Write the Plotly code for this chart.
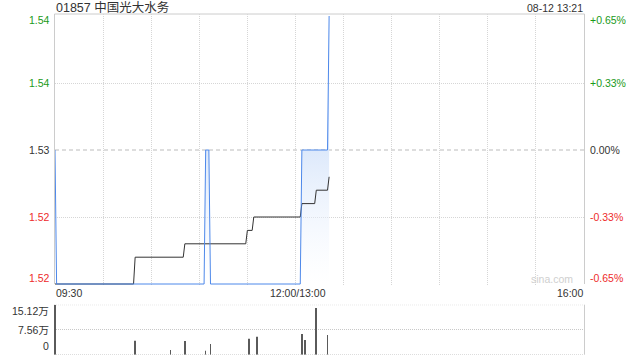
import plotly.graph_objects as go

# ---------------- data ----------------
# minute index: 0 = 09:30, 150 = 12:00/13:00, 330 = 16:00
price_x = [0, 1, 93, 94, 96, 97, 153, 154, 170, 171]
price_y = [1.53, 1.52, 1.52, 1.53, 1.53, 1.52, 1.52, 1.53, 1.53, 1.54]

avg_x = [0, 49, 50, 80, 81, 119, 120, 123, 124, 153, 154, 162, 163, 170, 171]
avg_y = [1.52, 1.52, 1.522, 1.522, 1.523, 1.523, 1.524, 1.524, 1.525,
         1.525, 1.526, 1.526, 1.527, 1.527, 1.528]

vol_x = [0, 50, 72, 81, 94, 97, 121, 126, 154, 156, 163, 170]
vol_y = [151200, 42300, 14100, 41300, 12100, 32300, 48400, 54400,
         62500, 44400, 141100, 59500]

prev_close = 1.53
price_ticks = [1.54, 1.535, 1.53, 1.525, 1.52]
price_labels = ["1.54", "1.54", "1.53", "1.52", "1.52"]
pct_labels = ["+0.65%", "+0.33%", "0.00%", "-0.33%", "-0.65%"]
vol_ticks = [151200, 75600, 0]
vol_labels = ["15.12万", "7.56万", "0"]
time_labels = [(0, "09:30"), (150, "12:00/13:00"), (330, "16:00")]
title_text = "01857 中国光大水务"
stamp_text = "08-12 13:21"

# ---------------- layout helpers ----------------
W, H = 640, 360
def px_x(p): return p / W
def px_y(p): return 1 - p / H

FONT = "Liberation Sans, Arial, Noto Sans CJK SC, sans-serif"
GREEN = "#1a9a1a"
RED = "#ee2b2b"
DARK = "#333333"
BLUE = "#4d88ea"

main_dom_x = [px_x(55), px_x(584)]
main_dom_y = [px_y(285.5), px_y(14)]
# 1.52 sits at pixel 284, 1.54 at pixel 16
y_lo = 1.52 - 1.5 / 134 * 0.01
y_hi = 1.54 + 2.0 / 134 * 0.01
vol_dom_x = [px_x(54), px_x(584)]
vol_dom_y = [px_y(354.7), px_y(304.7)]

fig = go.Figure()

# gradient fill under price line
fig.add_trace(go.Scatter(
    x=price_x, y=price_y, mode="lines", line=dict(width=0),
    fill="tozeroy",
    fillgradient=dict(type="vertical",
                      colorscale=[[0, "rgba(240,245,254,0.0)"],
                                  [0.5, "rgb(221,233,251)"],
                                  [1, "rgb(212,227,250)"]],
                      start=1.52, stop=1.54),
    xaxis="x", yaxis="y", hoverinfo="skip"))

# average price line
fig.add_trace(go.Scatter(
    x=avg_x, y=avg_y, mode="lines", line=dict(color=DARK, width=1),
    xaxis="x", yaxis="y"))

# price line
fig.add_trace(go.Scatter(
    x=price_x, y=price_y, mode="lines", line=dict(color=BLUE, width=1),
    xaxis="x", yaxis="y"))

# volume bars
fig.add_trace(go.Bar(
    x=vol_x, y=vol_y, width=0.35, marker=dict(color="#5a5a5a", line=dict(width=0)),
    xaxis="x2", yaxis="y2"))

ann = []
shifts = {0: -4.5, 4: 6}
for i, (v, lab, pl) in enumerate(zip(price_ticks, price_labels, pct_labels)):
    col = GREEN if v > prev_close + 1e-9 else (RED if v < prev_close - 1e-9 else DARK)
    ys = shifts.get(i, 0)
    ann.append(dict(x=px_x(52), xref="paper", y=v, yref="y", text=lab,
                    xanchor="right", yanchor="middle", showarrow=False,
                    yshift=ys, font=dict(family=FONT, size=10.5, color=col)))
    ann.append(dict(x=px_x(588), xref="paper", y=v, yref="y", text=pl,
                    xanchor="left", yanchor="middle", showarrow=False,
                    yshift=ys, font=dict(family=FONT, size=10.5, color=col)))

vshifts = [-6, 0, 8.5]
for v, lab, s in zip(vol_ticks, vol_labels, vshifts):
    ann.append(dict(x=px_x(51), xref="paper", y=v, yref="y2", text=lab,
                    xanchor="right", yanchor="middle", showarrow=False,
                    yshift=s, font=dict(family=FONT, size=10.5, color=DARK)))

anchors = {0: "left", 150: "center", 330: "right"}
xs = {0: -1, 150: 3, 330: 1}
for t, lab in time_labels:
    ann.append(dict(x=t, xref="x", y=px_y(293.3), yref="paper", text=lab,
                    xanchor=anchors[t], yanchor="middle", showarrow=False,
                    xshift=xs[t], font=dict(family=FONT, size=10.5, color=DARK)))

ann.append(dict(x=px_x(54), xref="paper", y=px_y(7.5), yref="paper", text=title_text,
                xanchor="left", yanchor="middle", showarrow=False,
                font=dict(family=FONT, size=12.5, color=DARK)))
ann.append(dict(x=px_x(585), xref="paper", y=px_y(7.5), yref="paper", text=stamp_text,
                xanchor="right", yanchor="middle", showarrow=False,
                font=dict(family=FONT, size=10.5, color=DARK)))
ann.append(dict(x=px_x(552), xref="paper", y=px_y(279), yref="paper", text="sina.com",
                xanchor="center", yanchor="middle", showarrow=False,
                font=dict(family=FONT, size=10.5, color="#cfcfcf")))

border = "#cccccc"
dot = "1px,1px"
shapes = [
    dict(type="line", xref="paper", yref="paper", x0=px_x(54.5), x1=px_x(584.5),
         y0=px_y(14), y1=px_y(14), line=dict(color=border, width=1), layer="below"),
    dict(type="line", xref="paper", yref="paper", x0=px_x(54.5), x1=px_x(54.5),
         y0=px_y(14), y1=px_y(284), line=dict(color=border, width=1), layer="below"),
    dict(type="line", xref="paper", yref="paper", x0=px_x(584.5), x1=px_x(584.5),
         y0=px_y(14), y1=px_y(284), line=dict(color=border, width=1), layer="below"),
    dict(type="line", xref="paper", yref="y", x0=main_dom_x[0], x1=main_dom_x[1],
         y0=prev_close, y1=prev_close, line=dict(color="#bbbbbb", width=1, dash="4px,3px"),
         layer="below"),
    # volume panel edges
    dict(type="line", xref="paper", yref="paper", x0=px_x(584.5), x1=px_x(584.5),
         y0=vol_dom_y[0], y1=vol_dom_y[1], line=dict(color=border, width=1), layer="below"),
    dict(type="line", xref="paper", yref="y2", x0=vol_dom_x[0], x1=vol_dom_x[1],
         y0=vol_ticks[0], y1=vol_ticks[0], line=dict(color="#c8c8c8", width=1, dash=dot),
         layer="below"),
    dict(type="line", xref="paper", yref="y2", x0=vol_dom_x[0], x1=vol_dom_x[1],
         y0=vol_ticks[2], y1=vol_ticks[2], line=dict(color="#c8c8c8", width=1, dash=dot),
         layer="below"),
]

fig.update_layout(
    width=W, height=H, margin=dict(l=0, r=0, t=0, b=0),
    paper_bgcolor="white", plot_bgcolor="white", showlegend=False,
    hovermode=False,
    xaxis=dict(domain=main_dom_x, range=[0, 330], anchor="y",
               tickvals=list(range(30, 330, 30)), showticklabels=False, ticks="",
               showgrid=True, gridcolor="#d6d6d6", griddash=dot, gridwidth=1,
               zeroline=False, showline=False),
    yaxis=dict(domain=main_dom_y, range=[y_lo, y_hi], anchor="x",
               tickvals=[1.525, 1.535], showticklabels=False, ticks="",
               showgrid=True, gridcolor="#d6d6d6", griddash=dot, gridwidth=1,
               zeroline=False, showline=False),
    xaxis2=dict(domain=vol_dom_x, range=[-0.6, 330], anchor="y2",
                showticklabels=False, ticks="", showgrid=False,
                zeroline=False, showline=False),
    yaxis2=dict(domain=vol_dom_y, range=[0, 151200], anchor="x2",
                tickvals=[vol_ticks[1]], showticklabels=False, ticks="",
                showgrid=True, gridcolor="#c8c8c8", griddash=dot, gridwidth=1,
                zeroline=False, showline=False),
    annotations=ann, shapes=shapes,
)

fig.write_html("out.html")
